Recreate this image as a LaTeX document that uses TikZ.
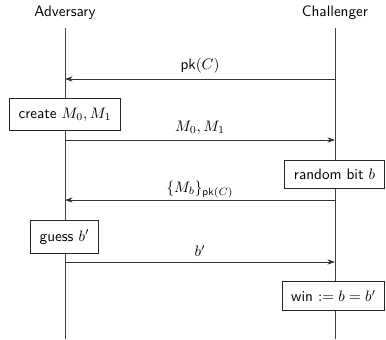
\documentclass[tikz,border=0pt]{standalone}
\usetikzlibrary{arrows.meta}
\renewcommand{\familydefault}{\sfdefault}
\begin{document}
\begin{tikzpicture}[x=0.66pt,y=-0.66pt,
  lifeline/.style={draw=black!75,line width=0.6pt},
  msg/.style={draw=black!80,line width=0.6pt,-{Stealth[length=5pt,width=3.5pt]}},
  actbox/.style={draw=black!85,fill=white,line width=0.6pt,inner xsep=6pt,inner ysep=6pt},
  party/.style={inner sep=1pt}]
\useasboundingbox (0,0) rectangle (386,339);
% participants
\node[party] (adv) at (65,13) {Adversary};
\node[party] (chal) at (335,13) {Challenger};
\coordinate (advtop) at (65,28);
\coordinate (advbot) at (65,339);
\coordinate (chaltop) at (335,28);
\coordinate (chalbot) at (335,339);
\draw[lifeline] (advtop) -- (advbot);
\draw[lifeline] (chaltop) -- (chalbot);
% message anchor points on the lifelines
\coordinate (a1) at (65,79);   \coordinate (c1) at (335,79);
\coordinate (a2) at (65,140);  \coordinate (c2) at (335,140);
\coordinate (a3) at (65,200);  \coordinate (c3) at (335,200);
\coordinate (a4) at (65,262);  \coordinate (c4) at (335,262);
% local actions
\node[actbox] (create) at (65,114.5) {create $M_0, M_1$};
\node[actbox] (rand) at (334.5,174.5) {random bit $b$};
\node[actbox] (guess) at (64.5,237) {guess $b'$};
\node[actbox] (win) at (333.5,296) {win $:= b = b'$};
% messages
\draw[msg] (c1) -- node[above] {$\mathsf{pk}(C)$} (a1);
\draw[msg] (a2) -- node[above] {$M_0, M_1$} (c2);
\draw[msg] (c3) -- node[above,inner sep=1pt] {$\{M_b\}_{\mathsf{pk}(C)}$} (a3);
\draw[msg] (a4) -- node[above] {$b'$} (c4);
\end{tikzpicture}
\end{document}
